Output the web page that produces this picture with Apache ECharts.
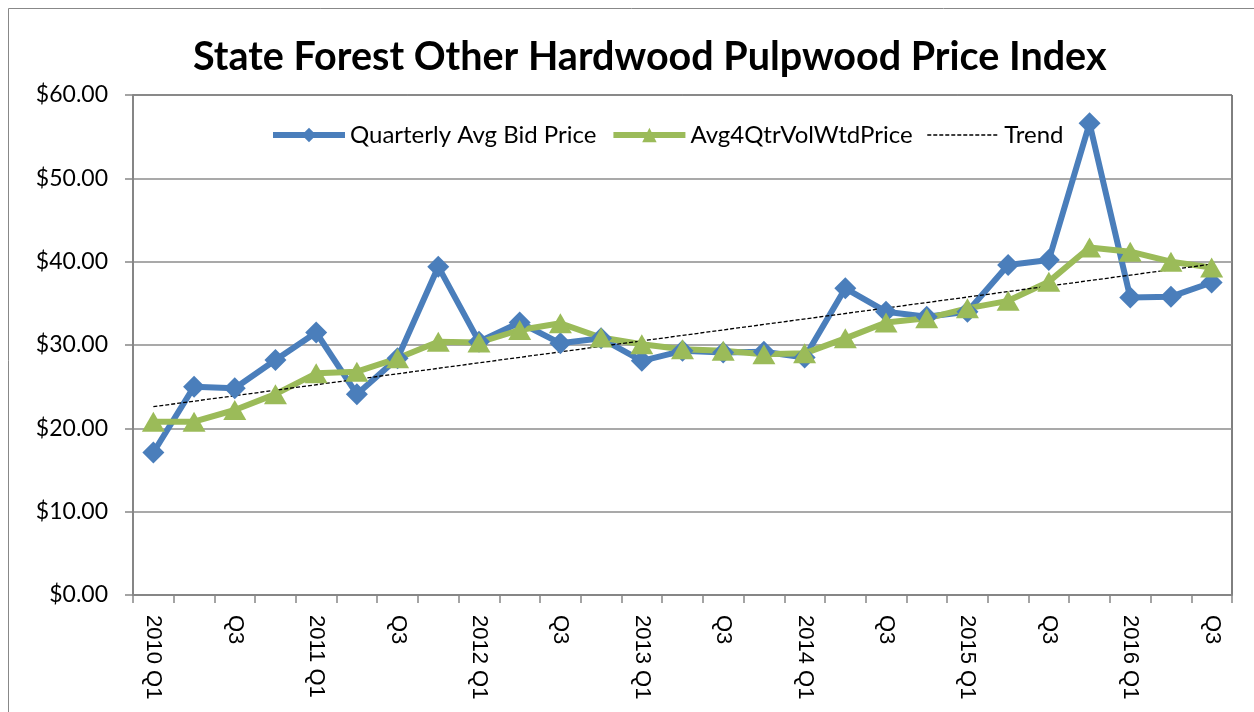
<!DOCTYPE html>
<html>
<head>
<meta charset="utf-8">
<script src="https://cdn.jsdelivr.net/npm/echarts@6/dist/echarts.min.js"></script>
<style>
  html, body { margin: 0; padding: 0; background: #fff; }
  #chart { width: 1254px; height: 712px; }
</style>
</head>
<body>
<div id="chart"></div>
<script>
// quarters 2010 Q1 .. 2016 Q3
const quarters = [
  '2010 Q1', 'Q2', 'Q3', 'Q4',
  '2011 Q1', 'Q2', 'Q3', 'Q4',
  '2012 Q1', 'Q2', 'Q3', 'Q4',
  '2013 Q1', 'Q2', 'Q3', 'Q4',
  '2014 Q1', 'Q2', 'Q3', 'Q4',
  '2015 Q1', 'Q2', 'Q3', 'Q4',
  '2016 Q1', 'Q2', 'Q3'
]
const bidPrice = [
  17.1, 25.0, 24.8, 28.2, 31.5, 24.1, 28.4, 39.4,
  30.4, 32.7, 30.2, 30.8, 28.1, 29.3, 29.1, 29.2,
  28.5, 36.8, 34.0, 33.4, 34.0, 39.6, 40.2, 56.6,
  35.7, 35.8, 37.5
]
const volWtdPrice = [
  20.8, 20.8, 22.2, 24.1, 26.6, 26.8, 28.4, 30.4,
  30.3, 31.8, 32.6, 30.9, 30.1, 29.5, 29.3, 28.9,
  29.0, 30.8, 32.7, 33.2, 34.4, 35.3, 37.6, 41.7,
  41.2, 40.0, 39.3
]
const trendEnds = [22.6, 39.7]   // straight trend line, first and last quarter
const yTicks = { min: 0, max: 60, interval: 10 }

const trendData = quarters.map((q, i) =>
  i === 0 ? trendEnds[0] : (i === quarters.length - 1 ? trendEnds[1] : null))

const chart = echarts.init(document.getElementById('chart'))
const calibri = 'Lato, "Open Sans", sans-serif'
const BLUE = '#4a7ebb', GREEN = '#9bbb59'

chart.setOption({
  animation: false,
  backgroundColor: '#fff',
  title: {
    text: 'State Forest Other Hardwood Pulpwood Price Index',
    left: 188, top: 32,
    textStyle: { fontFamily: calibri, fontWeight: 'bold', fontSize: 39.5, color: '#000' }
  },
  graphic: [{
    type: 'rect', silent: true,
    shape: { x: 8.5, y: 8.5, width: 1270, height: 720 },
    style: { fill: 'none', stroke: '#888', lineWidth: 1 }
  }],
  legend: {
    left: 265, top: 118,
    itemWidth: 72, itemHeight: 18, itemGap: 14,
    textStyle: { fontFamily: calibri, fontSize: 24, color: '#000' },
    data: [
      { name: 'Quarterly Avg Bid Price', lineStyle: { width: 6 } },
      { name: 'Avg4QtrVolWtdPrice', lineStyle: { width: 6 } },
      { name: 'Trend', lineStyle: { width: 1.3 }, itemStyle: { opacity: 0 } }
    ]
  },
  grid: {
    left: 133, right: 22, top: 95, bottom: 117,
    show: true, borderColor: '#000', borderWidth: 1, backgroundColor: 'transparent'
  },
  xAxis: {
    type: 'category', data: quarters, boundaryGap: true,
    axisLine: { lineStyle: { color: '#868686', width: 2 } },
    axisTick: { show: true, interval: 0, length: 8, lineStyle: { color: '#868686', width: 1.5 } },
    axisLabel: {
      interval: 1, rotate: -90, margin: 20,
      fontFamily: '"Liberation Sans", Arial, sans-serif', fontSize: 22, color: '#000'
    }
  },
  yAxis: {
    type: 'value', min: yTicks.min, max: yTicks.max, interval: yTicks.interval,
    axisLine: { show: true, lineStyle: { color: '#868686', width: 2 } },
    axisTick: { show: true, length: 8, lineStyle: { color: '#868686', width: 1.5 } },
    splitLine: { lineStyle: { color: '#8c8c8c', width: 1.5 } },
    axisLabel: {
      margin: 25, fontFamily: calibri, fontSize: 23, color: '#000',
      formatter: (v) => '$' + v.toFixed(2)
    }
  },
  series: [
    {
      name: 'Quarterly Avg Bid Price', type: 'line', data: bidPrice,
      symbol: 'diamond', symbolSize: 22,
      lineStyle: { color: BLUE, width: 6 },
      itemStyle: { color: BLUE }
    },
    {
      name: 'Avg4QtrVolWtdPrice', type: 'line', data: volWtdPrice,
      symbol: 'triangle', symbolSize: [23, 20],
      lineStyle: { color: GREEN, width: 6 },
      itemStyle: { color: GREEN }
    },
    {
      name: 'Trend', type: 'line', data: trendData, connectNulls: true,
      symbol: 'none',
      lineStyle: { color: '#000', width: 1.3, type: [4, 2] },
      itemStyle: { color: '#000' }
    }
  ]
})
</script>
</body>
</html>
